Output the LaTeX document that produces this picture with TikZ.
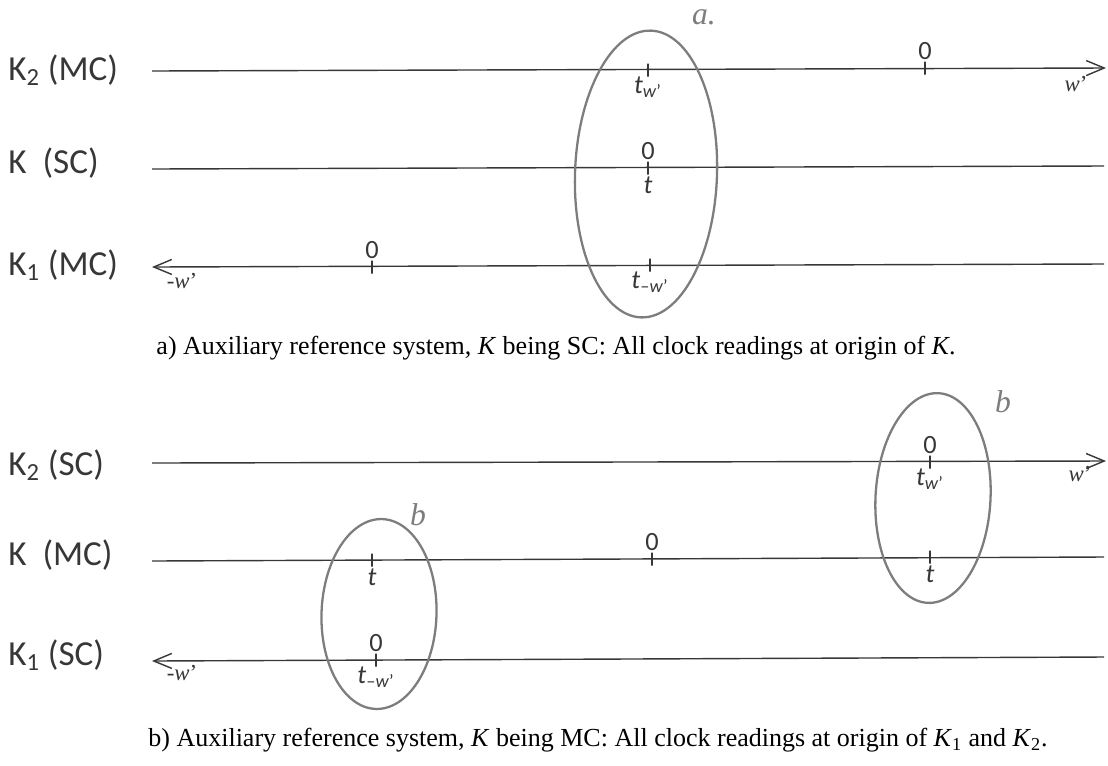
\documentclass[tikz,border=0pt]{standalone}
\usepackage{fontspec}
\setmainfont{Liberation Serif}
\newfontfamily\calib{Carlito}
\usetikzlibrary{arrows.meta,positioning,shapes.geometric}
\definecolor{inkgray}{RGB}{55,55,55}
\definecolor{pencil}{RGB}{125,125,125}
\tikzset{
  axisline/.style={draw=inkgray,line width=0.8pt},
  toright/.style={axisline,-{Straight Barb[length=3.6mm,width=3mm]}},
  toleft/.style={axisline,{Straight Barb[length=3.6mm,width=3mm]}-},
  tickbar/.style={draw=inkgray,line width=0.9pt,rectangle,minimum width=0pt,minimum height=2.6mm,inner sep=0pt},
  sysname/.style={anchor=west,font=\calib\fontsize{20}{24}\selectfont,text=inkgray,inner sep=0pt},
  reading/.style={font=\calib\fontsize{15}{17}\selectfont,inner sep=0.5pt,text=inkgray},
  ring/.style={ellipse,draw=pencil,line width=1.3pt,inner sep=0pt},
  scribble/.style={font=\itshape\fontsize{18}{20}\selectfont,text=pencil},
  endlbl/.style={font=\itshape\fontsize{13}{15}\selectfont,inner sep=0pt,text=inkgray},
  captxt/.style={font=\fontsize{14.8}{17}\selectfont,inner sep=0pt}
}

\begin{document}
\begin{tikzpicture}[x=0.02cm,y=-0.02cm]
  \useasboundingbox (0,0) rectangle (1108,765);

  % a) K is SC
  \node[sysname] (aK2) at (8,70) {K\textsubscript{2} (MC)};
  \node[sysname] (aK) at (8,163) {K\ \ (SC)};
  \node[sysname] (aK1) at (8,265) {K\textsubscript{1} (MC)};

  \coordinate (a2L) at (152,71);
  \coordinate (a2R) at (1106,68);
  \coordinate (a0L) at (152,169);
  \coordinate (a0R) at (1104,166);
  \coordinate (a1L) at (152,267);
  \coordinate (a1R) at (1104,264);
  \draw[toright] (a2L) -- (a2R);
  \draw[axisline] (a0L) -- (a0R);
  \draw[toleft] (a1L) -- (a1R);

  \node[endlbl] (aw) at (1076,84) {w\upshape'};
  \node[endlbl] (amw) at (182,281) {\upshape-\itshape w\upshape'};

  \node[tickbar] (a2t) at (648,70) {};
  \node[tickbar] (a2z) at (925,68) {};
  \node[tickbar] (a0t) at (648,168) {};
  \node[tickbar] (a1z) at (372,267) {};
  \node[tickbar] (a1t) at (650,265) {};

  \node[reading,below=-1pt of a2t] {\textit{t}\textsubscript{\textit{w}’}};
  \node[reading,above=0pt of a2z] {0};
  \node[reading,above=0pt of a0t] {0};
  \node[reading,below=0pt of a0t] {\textit{t}};
  \node[reading,above=0pt of a1z] {0};
  \node[reading,below=-1pt of a1t] {\textit{t}\textsubscript{–\textit{w}’}};

  \node[ring,rotate=-2,minimum width=2.84cm,minimum height=5.74cm] (ringa) at (646,174) {};
  \node[scribble] (nota) at (704,17) {a.};

  \node[captxt] (capa) at (556,348) {a) Auxiliary reference system, \textit{K} being SC: All clock readings at origin of \textit{K}.};

  % b) K is MC
  \node[sysname] (bK2) at (8,465) {K\textsubscript{2} (SC)};
  \node[sysname] (bK) at (8,555) {K\ \ (MC)};
  \node[sysname] (bK1) at (8,655) {K\textsubscript{1} (SC)};

  \coordinate (b2L) at (152,463);
  \coordinate (b2R) at (1106,461);
  \coordinate (b0L) at (152,561);
  \coordinate (b0R) at (1104,557);
  \coordinate (b1L) at (152,661);
  \coordinate (b1R) at (1104,657);
  \draw[toright] (b2L) -- (b2R);
  \draw[axisline] (b0L) -- (b0R);
  \draw[toleft] (b1L) -- (b1R);

  \node[endlbl] (bw) at (1080,474) {w\upshape'};
  \node[endlbl] (bmw) at (182,673) {\upshape-\itshape w\upshape'};

  \node[tickbar] (b2t) at (930,462) {};
  \node[tickbar] (b0l) at (372,560) {};
  \node[tickbar] (b0z) at (652,559) {};
  \node[tickbar] (b0r) at (930,557) {};
  \node[tickbar] (b1t) at (376,660) {};

  \node[reading,above=0pt of b2t] {0};
  \node[reading,below=-1pt of b2t] {\textit{t}\textsubscript{\textit{w}’}};
  \node[reading,below=0pt of b0l] {\textit{t}};
  \node[reading,above=0pt of b0z] {0};
  \node[reading,below=0pt of b0r] {\textit{t}};
  \node[reading,above=0pt of b1t] {0};
  \node[reading,below=-1pt of b1t] {\textit{t}\textsubscript{–\textit{w}’}};

  \node[ring,rotate=-3,minimum width=2.3cm,minimum height=4.2cm] (ringbr) at (933,498) {};
  \node[ring,rotate=-2,minimum width=2.3cm,minimum height=3.8cm] (ringbl) at (379,614) {};
  \node[scribble] (notbr) at (1003,402) {b};
  \node[scribble] (notbl) at (418,515) {b};

  \node[captxt] (capb) at (598,740) {b) Auxiliary reference system, \textit{K} being MC: All clock readings at origin of \textit{K}\textsubscript{1} and \textit{K}\textsubscript{2}.};
\end{tikzpicture}
\end{document}
